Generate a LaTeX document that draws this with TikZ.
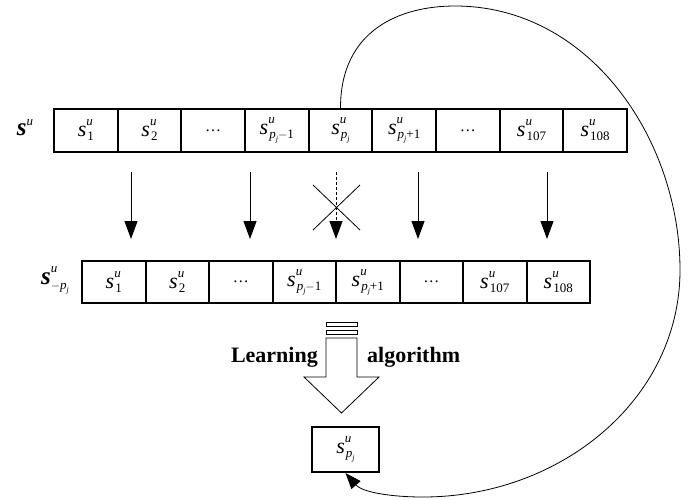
\documentclass[tikz,border=0pt]{standalone}
\usepackage{fontspec}
\setmainfont{Liberation Serif}
\usetikzlibrary{arrows.meta}
\newcommand{\fsz}[1]{\fontsize{#1}{#1}\selectfont}
\newcommand{\Sv}[1]{{\fsz{22}\textit{s}}\rlap{\raisebox{11pt}{\fsz{13}\textit{u}}}\hspace{1pt}\raisebox{-4pt}{\fsz{13}#1}}
\newcommand{\pj}{\textit{p}\raisebox{-3pt}{\fsz{8}\textit{j}}}
\begin{document}
\begin{tikzpicture}[x=1pt,y=-1pt,
  cellA/.style={draw,line width=2pt,minimum width=63.67pt,minimum height=43pt,inner sep=0pt},
  cellB/.style={draw,line width=2pt,minimum width=63.5pt,minimum height=42pt,inner sep=0pt},
  darrow/.style={line width=1pt,-{Triangle[length=18pt,width=13pt]}},
  thin/.style={line width=0.8pt},
  lbl/.style={inner sep=0pt,font=\bfseries\fsz{22}}]
\useasboundingbox (0,0) rectangle (699,499);
% top row
\node[cellA] (t1) at (85.8,130.5) {\Sv{1}};
\node[cellA] (t2) at (149.5,130.5) {\Sv{2}};
\node[cellA] (t3) at (213.2,130.5) {\fsz{16}\dots};
\node[cellA] (t4) at (276.8,130.5) {\Sv{\pj$-$1}};
\node[cellA] (t5) at (340.5,130.5) {\Sv{\pj}};
\node[cellA] (t6) at (404.2,130.5) {\Sv{\pj+1}};
\node[cellA] (t7) at (467.8,130.5) {\fsz{16}\dots};
\node[cellA] (t8) at (531.5,130.5) {\Sv{107}};
\node[cellA] (t9) at (595.2,130.5) {\Sv{108}};
\node[inner sep=0pt] (topl) at (25,128) {{\fsz{25}\textbf{\textit{s}}}\raisebox{10pt}{\fsz{13}\textit{u}}};
% bottom row
\node[cellB] (b1) at (113.75,282) {\Sv{1}};
\node[cellB] (b2) at (177.25,282) {\Sv{2}};
\node[cellB] (b3) at (240.75,282) {\fsz{16}\dots};
\node[cellB] (b4) at (304.25,282) {\Sv{\pj$-$1}};
\node[cellB] (b5) at (367.75,282) {\Sv{\pj+1}};
\node[cellB] (b6) at (431.25,282) {\fsz{16}\dots};
\node[cellB] (b7) at (494.75,282) {\Sv{107}};
\node[cellB] (b8) at (558.25,282) {\Sv{108}};
\node[inner sep=0pt] (botl) at (55,280) {{\fsz{25}\textbf{\textit{s}}}\rlap{\raisebox{12pt}{\fsz{13}\textit{u}}}\raisebox{-5pt}{\fsz{13}$-$\pj}};
% down arrows
\foreach \i/\x in {1/131,2/250,3/336,4/418,5/547}{
  \coordinate (as\i) at (\x,172);
  \coordinate (ae\i) at (\x,239);
}
\draw[darrow] (as1) -- (ae1);
\draw[darrow] (as2) -- (ae2);
\draw[darrow,densely dashed] (as3) -- (ae3);
\draw[darrow] (as4) -- (ae4);
\draw[darrow] (as5) -- (ae5);
% cross
\coordinate (c1) at (313,185); \coordinate (c2) at (360,230);
\coordinate (c3) at (360,185); \coordinate (c4) at (313,230);
\draw[thin] (c1) -- (c2);
\draw[thin] (c3) -- (c4);
% hollow arrow
\draw[thin] (326,322) rectangle (357,326);
\draw[thin] (326,330) rectangle (357,334);
\draw[thin,line join=miter] (326,338) -- (326,377) -- (304,377) -- (341.5,413) -- (379,377) -- (357,377) -- (357,338) -- cycle;
\node[lbl,anchor=base east] (learn) at (318,362) {Learning};
\node[lbl,anchor=base west] (algo) at (367,362) {algorithm};
% result box
\node[draw,line width=2pt,minimum width=67pt,minimum height=45pt,inner sep=0pt] (pj) at (345.5,449.5) {\Sv{\pj}};
% feedback curve
\draw[line width=0.8pt,-{Triangle[length=16pt,width=12pt]}]
  (t5.north) .. controls (340.5,30) and (400,6) .. (455,6)
  .. controls (590,6) and (680,140) .. (680,270)
  .. controls (680,400) and (560,497) .. (423,497)
  .. controls (390,497) and (362,492) .. (pj.south);
\end{tikzpicture}
\end{document}
